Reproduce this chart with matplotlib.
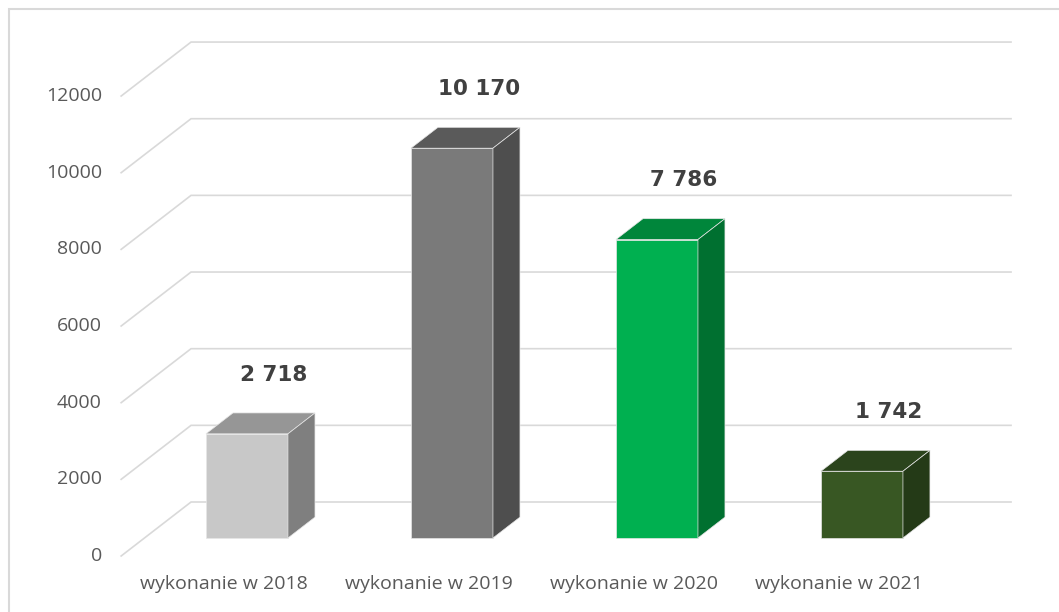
import matplotlib.pyplot as plt
from matplotlib.patches import Polygon, Rectangle

# dane
kategorie = ['wykonanie w 2018', 'wykonanie w 2019', 'wykonanie w 2020', 'wykonanie w 2021']
wartosci = [2718, 10170, 7786, 1742]
etykiety = ['2 718', '10 170', '7 786', '1 742']
yticks = [0, 2000, 4000, 6000, 8000, 10000, 12000]

kolor_przod = ['#c8c8c8', '#7a7a7a', '#00b050', '#385723']
kolor_bok = ['#7f7f7f', '#4e4e4e', '#007030', '#243a17']
kolor_gora = ['#969696', '#5a5a5a', '#00863b', '#2b441c']

# pseudo-3D: przesuniecie glebokosci w jednostkach danych
DX = 0.341
DY = 1409
F0, F1 = 1 / 3, 0.72   # przod i tyl slupka (ulamek glebokosci)
W = 0.2                 # pol szerokosci slupka


def pt(u, v, d):
    return (u + d * DX, v + d * DY)


fig = plt.figure(figsize=(10.59, 6.12), dpi=100)
ax = fig.add_axes([0, 0, 1, 1])
ax.set_xlim(-1.091, 4.075)
ax.set_ylim(-1461, 14506)
ax.axis('off')

# ramka wykresu
fig.patches.append(Rectangle((9 / 1059, -0.1), 1.2, 1 - 9 / 612 + 0.1,
                             transform=fig.transFigure, fill=False,
                             edgecolor='#d9d9d9', linewidth=1.5))

# siatka: sciana tylna + ukosne linie przy lewej krawedzi
for t in yticks:
    x0, y0 = pt(-0.5, t, 0)
    x1, y1 = pt(-0.5, t, 1)
    x2, y2 = pt(3.5, t, 1)
    ax.plot([x0, x1, x2], [y0, y1, y2], color='#d9d9d9', lw=1.2,
            solid_joinstyle='miter', zorder=1)
    ax.text(-0.594, t, str(t), ha='right', va='center',
            fontsize=14, family='Open Sans', color='#595959')

# slupki
for i, v in enumerate(wartosci):
    przod = [pt(i - W, 0, F0), pt(i + W, 0, F0), pt(i + W, v, F0), pt(i - W, v, F0)]
    gora = [pt(i - W, v, F0), pt(i + W, v, F0), pt(i + W, v, F1), pt(i - W, v, F1)]
    bok = [pt(i + W, 0, F0), pt(i + W, v, F0), pt(i + W, v, F1), pt(i + W, 0, F1)]
    ax.add_patch(Polygon(przod, closed=True, facecolor=kolor_przod[i],
                         edgecolor='#e6e6e6', lw=0.5, zorder=3))
    ax.add_patch(Polygon(gora, closed=True, facecolor=kolor_gora[i],
                         edgecolor='#e6e6e6', lw=0.5, zorder=3))
    ax.add_patch(Polygon(bok, closed=True, facecolor=kolor_bok[i],
                         edgecolor='#e6e6e6', lw=0.5, zorder=3))
    lx, ly = pt(i, v, F1)
    ax.text(lx, ly + 1000, etykiety[i], ha='center', va='center',
            fontsize=15.5, fontweight='bold', family='DejaVu Sans',
            color='#404040', zorder=4)
    ax.text(i, -730, kategorie[i], ha='center', va='center',
            fontsize=14, family='Open Sans', color='#595959')

fig.savefig('out.png', dpi=100)
